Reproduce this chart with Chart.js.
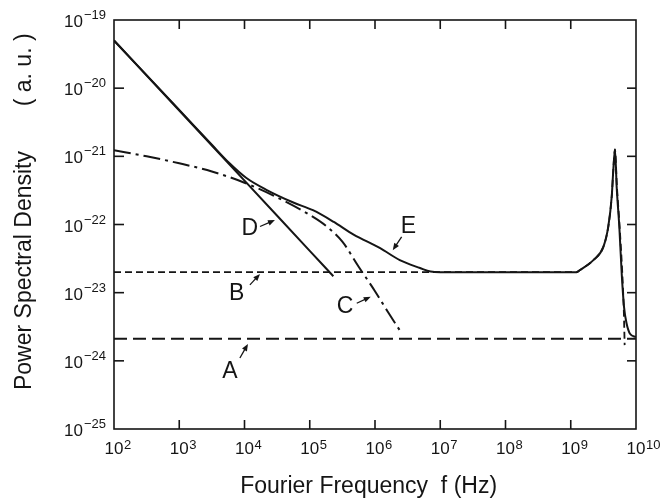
<!DOCTYPE html>
<html>
<head>
<meta charset="utf-8">
<script src="https://cdn.jsdelivr.net/npm/chart.js@4.4.1/dist/chart.umd.min.js"></script>
<style>
  html, body { margin: 0; padding: 0; background: #fff; }
  #wrap { width: 667px; height: 500px; position: relative; }
</style>
</head>
<body>
<div id="wrap"><canvas id="psd"></canvas></div>
<script>
// ── ejes (décadas) ──────────────────────────────────────────────
const X_TICKS = [1e2, 1e3, 1e4, 1e5, 1e6, 1e7, 1e8, 1e9, 1e10];
const X_TICK_EXP = ['2', '3', '4', '5', '6', '7', '8', '9', '10'];
const Y_TICKS = [1e-25, 1e-24, 1e-23, 1e-22, 1e-21, 1e-20, 1e-19];
const Y_TICK_EXP = ['−25', '−24', '−23', '−22', '−21', '−20', '−19'];

// ── curvas ──────────────────────────────────────────────────────
// A
const FREQ_A = [1e2, 1e10];
const PSD_A = [2.1e-24, 2.1e-24];

// B
const FREQ_B = [1e2, 1e9, 1.23e9, 1.39e9, 2.22e9, 3.16e9, 3.76e9, 4.25e9, 4.49e9, 4.76e9, 5.1e9, 5.6e9, 6.15e9, 6.5e9, 6.7e9];
const PSD_B = [2.0e-23, 2.0e-23, 2.0e-23, 2.15e-23, 3.0e-23, 4.7e-23, 9.3e-23, 2.6e-22, 6.3e-22, 1.26e-21, 3.6e-22, 9.5e-23, 2.0e-23, 5.6e-24, 1.7e-24];

// C
const FREQ_C = [1e2, 3.16e2, 1e3, 3.16e3, 1e4, 3.16e4, 1e5, 1.78e5, 3.16e5, 5.62e5, 1e6, 1.58e6, 2.4e6];
const PSD_C = [1.23e-21, 1.0e-21, 7.9e-22, 6.0e-22, 4.1e-22, 2.5e-22, 1.38e-22, 9.5e-23, 5.6e-23, 2.4e-23, 1.05e-23, 5.2e-24, 2.8e-24];

// D
const FREQ_D = [1e2, 1e3, 1e4, 1e5, 2.3e5];
const PSD_D = [5.0e-20, 4.7e-21, 4.4e-22, 4.1e-23, 1.74e-23];

// E
const FREQ_E = [1e2, 1e3, 3.16e3, 5.9e3, 1.07e4, 2.2e4, 5.6e4, 1.12e5, 2.3e5, 4.7e5, 1.2e6, 2.4e6, 4.9e6, 7.1e6, 1e7,
  1e9, 1.23e9, 1.39e9, 2.22e9, 3.16e9, 3.76e9, 4.25e9, 4.49e9, 4.76e9, 5.06e9, 5.55e9, 6.04e9, 6.55e9, 7.19e9, 8.09e9, 1e10];
const PSD_E = [5.0e-20, 4.8e-21, 1.48e-21, 7.9e-22, 4.8e-22, 3.2e-22, 2.1e-22, 1.62e-22, 1.10e-22, 7.1e-23, 4.5e-23, 3.0e-23, 2.3e-23, 2.04e-23, 2.0e-23,
  2.0e-23, 2.0e-23, 2.15e-23, 3.0e-23, 4.7e-23, 9.3e-23, 2.6e-22, 6.3e-22, 1.26e-21, 3.5e-22, 9.3e-23, 1.9e-23, 6.2e-24, 3.5e-24, 2.5e-24, 2.24e-24];

// ── rótulos con flecha (coordenadas de datos) ──────────────────
const NOTE_TEXT = ['A', 'B', 'C', 'D', 'E'];
const NOTE_AT = [[6.0e3, 6.9e-25], [7.6e3, 9.8e-24], [3.47e5, 6.2e-24], [1.21e4, 8.8e-23], [3.24e6, 9.3e-23]];
const ARROW_FROM = [[8.5e3, 1.1e-24], [1.21e4, 1.30e-23], [5.25e5, 7.0e-24], [1.73e4, 9.35e-23], [2.56e6, 6.6e-23]];
const ARROW_TO = [[1.13e4, 1.77e-24], [1.73e4, 1.88e-23], [8.6e5, 8.7e-24], [2.93e4, 1.16e-22], [1.87e6, 4.2e-23]];

const INK = '#151515';
const FONT = "'Liberation Sans', Arial, sans-serif";
Chart.defaults.font.family = FONT;
Chart.defaults.color = INK;

const pts = (xs, ys) => xs.map((x, i) => ({ x, y: ys[i] }));

function curve(label, xs, ys, dash, width) {
  return {
    label,
    data: pts(xs, ys),
    borderColor: INK,
    borderWidth: width,
    borderDash: dash,
    pointRadius: 0,
    fill: false,
    cubicInterpolationMode: 'monotone',
  };
}

// marco, marcas hacia dentro, etiquetas 10^n y rótulos A–E
const frameAndNotes = {
  id: 'frameAndNotes',
  afterDatasetsDraw(chart) {
    const { ctx, chartArea: a, scales: { x, y } } = chart;
    const seg = (x1, y1, x2, y2) => { ctx.beginPath(); ctx.moveTo(x1, y1); ctx.lineTo(x2, y2); ctx.stroke(); };
    const BASE = '17px ' + FONT, SUP = '13px ' + FONT;
    ctx.save();
    ctx.strokeStyle = INK;
    ctx.fillStyle = INK;
    ctx.lineWidth = 1.6;
    ctx.strokeRect(a.left, a.top, a.right - a.left, a.bottom - a.top);

    // eje x
    ctx.textBaseline = 'alphabetic';
    X_TICKS.forEach((v, i) => {
      const px = x.getPixelForValue(v);
      if (i > 0 && i < X_TICKS.length - 1) {
        seg(px, a.bottom, px, a.bottom - 9);
        seg(px, a.top, px, a.top + 9);
      }
      ctx.font = BASE;
      ctx.textAlign = 'center';
      const w = ctx.measureText('10').width;
      ctx.fillText('10', px, a.bottom + 25);
      ctx.font = SUP;
      ctx.textAlign = 'left';
      ctx.fillText(X_TICK_EXP[i], px + w / 2 + 0.5, a.bottom + 20);
    });

    // eje y
    Y_TICKS.forEach((v, i) => {
      const py = y.getPixelForValue(v);
      if (i > 0 && i < Y_TICKS.length - 1) {
        seg(a.left, py, a.left + 10, py);
        seg(a.right, py, a.right - 9, py);
      }
      ctx.textAlign = 'right';
      ctx.font = SUP;
      const we = ctx.measureText(Y_TICK_EXP[i]).width;
      ctx.fillText(Y_TICK_EXP[i], a.left - 8, py - 1);
      ctx.font = BASE;
      ctx.fillText('10', a.left - 9 - we, py + 7);
    });

    // rótulos A–E
    ctx.font = '23px ' + FONT;
    ctx.textAlign = 'center';
    ctx.textBaseline = 'middle';
    ctx.lineWidth = 1.3;
    NOTE_TEXT.forEach((t, i) => {
      ctx.fillText(t, x.getPixelForValue(NOTE_AT[i][0]), y.getPixelForValue(NOTE_AT[i][1]));
      const x1 = x.getPixelForValue(ARROW_FROM[i][0]), y1 = y.getPixelForValue(ARROW_FROM[i][1]);
      const x2 = x.getPixelForValue(ARROW_TO[i][0]), y2 = y.getPixelForValue(ARROW_TO[i][1]);
      const ang = Math.atan2(y2 - y1, x2 - x1);
      seg(x1, y1, x2 - 4 * Math.cos(ang), y2 - 4 * Math.sin(ang));
      ctx.beginPath();
      ctx.moveTo(x2, y2);
      ctx.lineTo(x2 - 7 * Math.cos(ang) + 2.8 * Math.sin(ang), y2 - 7 * Math.sin(ang) - 2.8 * Math.cos(ang));
      ctx.lineTo(x2 - 7 * Math.cos(ang) - 2.8 * Math.sin(ang), y2 - 7 * Math.sin(ang) + 2.8 * Math.cos(ang));
      ctx.closePath();
      ctx.fill();
    });
    ctx.restore();
  },
};

new Chart(document.getElementById('psd'), {
  type: 'line',
  data: {
    datasets: [
      curve('E', FREQ_E, PSD_E, [], 2),
      curve('D', FREQ_D, PSD_D, [], 2),
      curve('C', FREQ_C, PSD_C, [17, 5, 3, 5], 2),
      curve('B', FREQ_B, PSD_B, [7, 4], 1.8),
      curve('A', FREQ_A, PSD_A, [13, 6], 2),
    ],
  },
  options: {
    responsive: true,
    maintainAspectRatio: false,
    devicePixelRatio: 1,
    animation: false,
    layout: { padding: { left: 0, right: 31, top: 20, bottom: 0 } },
    plugins: { legend: { display: false }, tooltip: { enabled: false } },
    scales: {
      x: {
        type: 'logarithmic',
        min: 1e2,
        max: 1e10,
        afterBuildTicks: s => { s.ticks = X_TICKS.map(v => ({ value: v })); },
        afterFit: s => { s.height = 71; },
        grid: { display: false, drawTicks: false },
        border: { display: false },
        ticks: { display: false },
        title: {
          display: true,
          text: 'Fourier Frequency  f (Hz)  ',
          font: { size: 23 },
          padding: { top: 0, bottom: 0 },
        },
      },
      y: {
        type: 'logarithmic',
        min: 1e-25,
        max: 1e-19,
        afterBuildTicks: s => { s.ticks = Y_TICKS.map(v => ({ value: v })); },
        afterFit: s => { s.width = 114; },
        grid: { display: false, drawTicks: false },
        border: { display: false },
        ticks: { display: false },
        title: {
          display: true,
          text: '    Power Spectral Density       ( a. u. )',
          font: { size: 23 },
          padding: { top: 11, bottom: 0 },
        },
      },
    },
  },
  plugins: [frameAndNotes],
});
</script>
</body>
</html>
